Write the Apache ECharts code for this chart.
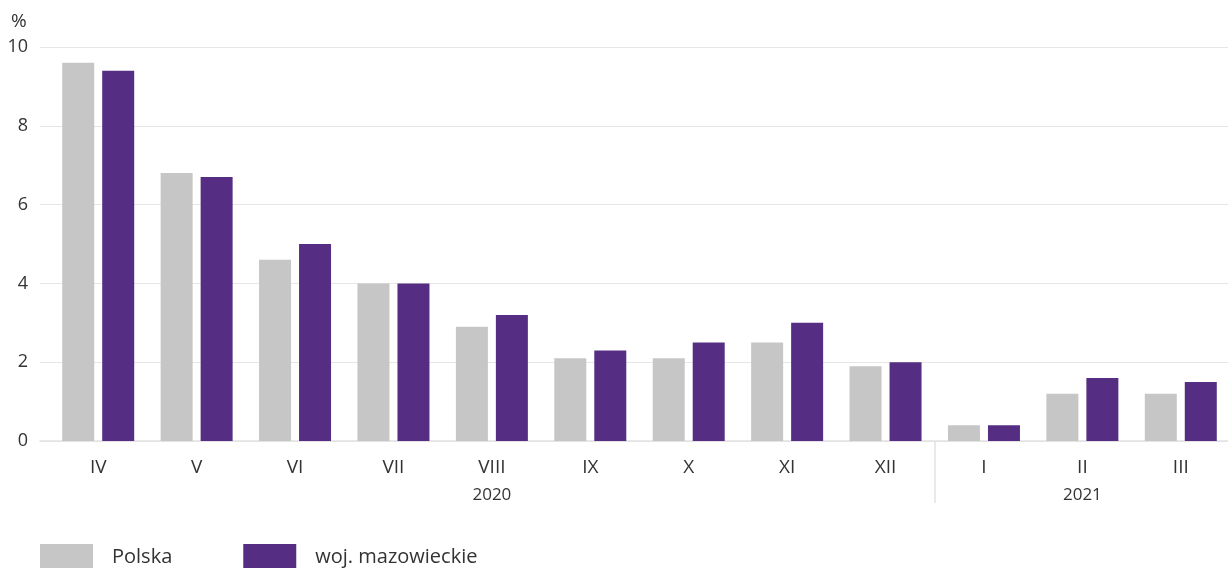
<!DOCTYPE html>
<html>
<head>
<meta charset="utf-8">
<script src="https://cdn.jsdelivr.net/npm/echarts@6/dist/echarts.min.js"></script>
<style>
  html, body { margin: 0; padding: 0; background: #fff; }
  #chart { width: 1228px; height: 568px; }
</style>
</head>
<body>
<div id="chart"></div>
<script>
const months = ["IV", "V", "VI", "VII", "VIII", "IX", "X", "XI", "XII", "I", "II", "III"];
// year row has one extra hidden slot on the left so the only visible divider is the XII|I one
const years = ["", "", "", "", "", "2020", "", "", "", "", "", "2021", ""];
const yearBreaks = [0, 10];
const polska = [9.6, 6.8, 4.6, 4.0, 2.9, 2.1, 2.1, 2.5, 1.9, 0.4, 1.2, 1.2];
const mazowieckie = [9.4, 6.7, 5.0, 4.0, 3.2, 2.3, 2.5, 3.0, 2.0, 0.4, 1.6, 1.5];

const font = "Open Sans";
const textColor = "#333";

const plotLeft = 49;
const plotRight = -2;
const band = (1228 - plotRight - plotLeft) / months.length;

const chart = echarts.init(document.getElementById("chart"));
chart.setOption({
  animation: false,
  textStyle: { fontFamily: font },
  title: {
    text: "%",
    left: 11,
    top: 12,
    padding: 0,
    textStyle: { fontFamily: font, fontSize: 19, fontWeight: "normal", color: textColor }
  },
  legend: {
    left: 40,
    top: 544,
    padding: 0,
    itemWidth: 53,
    itemHeight: 26,
    itemGap: 71,
    icon: "rect",
    textStyle: { fontFamily: font, fontSize: 20, color: textColor, padding: [0, 0, 0, 14] },
    data: ["Polska", "woj. mazowieckie"]
  },
  grid: [
    { left: 40, right: 0, top: 47, height: 394, outerBoundsMode: "none" },
    { left: plotLeft, right: plotRight, top: 47, height: 394, outerBoundsMode: "none" },
    { left: plotLeft - band, right: plotRight, top: 47, height: 394, outerBoundsMode: "none" }
  ],
  xAxis: [
    {
      gridIndex: 0,
      type: "category",
      data: [""],
      axisLine: { lineStyle: { color: "#e2e2e2", width: 1.5 } },
      axisTick: { show: false },
      axisLabel: { show: false }
    },
    {
      gridIndex: 1,
      type: "category",
      data: months,
      axisLine: { show: false },
      axisTick: { show: false },
      axisLabel: { margin: 17, fontSize: 19, color: textColor, fontFamily: font }
    },
    {
      gridIndex: 2,
      type: "category",
      data: years,
      axisLine: { show: false },
      axisTick: {
        show: true,
        length: 62,
        interval: (i) => yearBreaks.includes(i),
        lineStyle: { color: "#e2e2e2", width: 1.5 }
      },
      axisLabel: { margin: 46, fontSize: 17, color: textColor, fontFamily: font, interval: 0 }
    }
  ],
  yAxis: [
    {
      gridIndex: 0,
      type: "value",
      min: 0,
      max: 10,
      interval: 2,
      axisLine: { show: false },
      axisTick: { show: false },
      axisLabel: { margin: 12, fontSize: 18, color: textColor, fontFamily: font },
      splitLine: { lineStyle: { color: "#e6e6e6", width: 1 } }
    },
    { gridIndex: 1, type: "value", min: 0, max: 10, interval: 2, show: false },
    { gridIndex: 2, type: "value", min: 0, max: 10, interval: 2, show: false }
  ],
  series: [
    {
      name: "Polska",
      type: "bar",
      xAxisIndex: 1,
      yAxisIndex: 1,
      data: polska,
      barWidth: 32,
      barGap: "25%",
      itemStyle: { color: "#c5c6c5" }
    },
    {
      name: "woj. mazowieckie",
      type: "bar",
      xAxisIndex: 1,
      yAxisIndex: 1,
      data: mazowieckie,
      barWidth: 32,
      barGap: "25%",
      itemStyle: { color: "#552e83" }
    }
  ]
});
</script>
</body>
</html>
